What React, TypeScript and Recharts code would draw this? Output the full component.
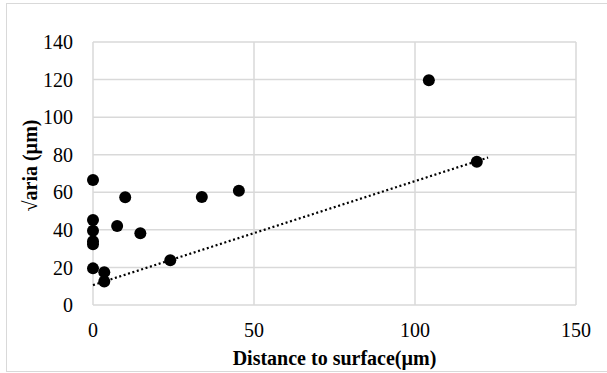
import React from 'react';
import { ScatterChart, Scatter, XAxis, YAxis, CartesianGrid } from 'recharts';

// Measured points: distance to surface (µm) vs √aria (µm)
const distance = [0, 0, 0, 0, 0, 0, 3.5, 3.5, 7.5, 10, 14.7, 24, 33.8, 45.3, 104.3, 119.2];
const sqrtArea = [66.5, 45.2, 39.5, 34, 32.3, 19.5, 17.5, 12.5, 42, 57.3, 38.2, 23.8, 57.5, 60.8, 119.7, 76.3];

// Linear trendline endpoints as drawn
const trendX = [0, 122.7];
const trendY = [10.6, 78.5];

const xTicks = [0, 50, 100, 150];
const yTicks = [0, 20, 40, 60, 80, 100, 120, 140];

const points = distance.map((x, i) => ({ x, y: sqrtArea[i] }));
const trend = trendX.map((x, i) => ({ x, y: trendY[i] }));

const FONT = "'Liberation Serif', 'Times New Roman', serif";

const Dot = (props: any) => <circle cx={props.cx} cy={props.cy} r={6} fill="#000" />;
const NoDot = () => <g />;

export default function App() {
    return (
        <div style={{ position: 'absolute', left: 0, top: 0, width: 607, height: 373, background: '#fff', overflow: 'hidden', fontFamily: FONT }}>
            <style>{`.chart text { font-family: ${FONT} !important; }`}</style>
            <div style={{ position: 'absolute', left: 6, top: 3, width: 620, height: 369, border: '1px solid #d9d9d9', boxSizing: 'border-box' }} />
            <div className="chart" style={{ position: 'absolute', left: 0, top: 0 }}>
                <ScatterChart width={607} height={373} margin={{ top: 42, right: 31, bottom: 28, left: 43 }}>
                    <CartesianGrid stroke="#d9d9d9" strokeWidth={1.5} />
                    <XAxis
                        type="number"
                        dataKey="x"
                        domain={[0, 150]}
                        ticks={xTicks}
                        axisLine={false}
                        tickLine={false}
                        tickSize={0}
                        tickMargin={18}
                        height={40}
                        tick={{ fill: '#000', fontSize: 20 }}
                        label={{ value: 'Distance to surface(µm)', position: 'insideBottom', offset: -20, fill: '#000', fontSize: 20, fontWeight: 'bold' }}
                    />
                    <YAxis
                        type="number"
                        dataKey="y"
                        domain={[0, 140]}
                        ticks={yTicks}
                        axisLine={false}
                        tickLine={false}
                        tickSize={0}
                        tickMargin={20}
                        width={50}
                        tick={{ fill: '#000', fontSize: 20 }}
                        label={{ value: '√aria (µm)', angle: -90, position: 'left', offset: 13, fill: '#000', fontSize: 20, fontWeight: 'bold', textAnchor: 'middle', dx: 0, dy: -8 }}
                    />
                    <Scatter
                        data={trend}
                        line={{ stroke: '#000', strokeWidth: 2.2, strokeDasharray: '2 2.6' }}
                        shape={NoDot}
                        isAnimationActive={false}
                    />
                    <Scatter data={points} shape={Dot} isAnimationActive={false} />
                </ScatterChart>
            </div>
        </div>
    );
}
